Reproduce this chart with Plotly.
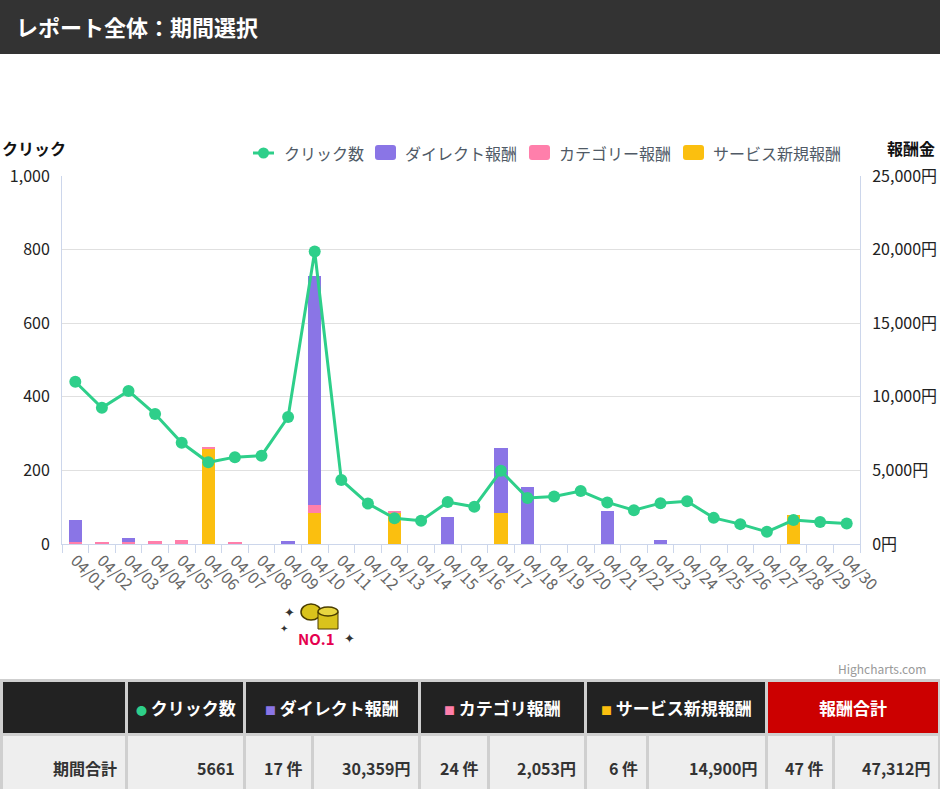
import plotly.graph_objects as go

# --- データ ---
dates = ["04/%02d" % d for d in range(1, 31)]
clicks = [441, 370, 416, 353, 275, 222, 236, 240, 345, 795,
          174, 110, 70, 63, 114, 101, 199, 125, 129, 144,
          113, 92, 111, 116, 71, 54, 33, 65, 60, 56]
direct_reward = [1500, 0, 280, 0, 0, 0, 0, 0, 200, 15560,
                 0, 0, 0, 0, 1850, 0, 4400, 3900, 0, 0,
                 2240, 0, 290, 0, 0, 0, 0, 0, 0, 0]
category_reward = [110, 130, 130, 200, 290, 70, 110, 0, 0, 570,
                   0, 0, 150, 0, 0, 0, 0, 0, 0, 0,
                   0, 0, 0, 0, 0, 0, 0, 0, 0, 0]
service_reward = [0, 0, 0, 0, 0, 6500, 0, 0, 0, 2100,
                  0, 0, 2100, 0, 0, 0, 2100, 0, 0, 0,
                  0, 0, 0, 0, 0, 0, 0, 2000, 0, 0]

click_ticks = [0, 200, 400, 600, 800, 1000]
yen_ticks = [0, 5000, 10000, 15000, 20000, 25000]

legend_labels = ["クリック数", "ダイレクト報酬", "カテゴリー報酬", "サービス新規報酬"]
table_headers = ["クリック数", "ダイレクト報酬", "カテゴリ報酬", "サービス新規報酬", "報酬合計"]
table_values = ["期間合計", "5661", "17 件", "30,359円", "24 件", "2,053円",
                "6 件", "14,900円", "47 件", "47,312円"]

FONT = "Noto Sans CJK JP"
GREEN = "#2ecf8a"
PURPLE = "#8a75e6"
PINK = "#ff7fab"
YELLOW = "#fbbf0f"

W, H = 940, 789
PLOT_LEFT, PLOT_RIGHT, PLOT_TOP, PLOT_BOTTOM = 62, 860, 176, 544


def px_x(x):
    """ピクセル座標 -> paper 座標 (x)"""
    return (x - PLOT_LEFT) / (PLOT_RIGHT - PLOT_LEFT)


def px_y(y):
    """ピクセル座標 -> paper 座標 (y)"""
    return (PLOT_BOTTOM - y) / (PLOT_BOTTOM - PLOT_TOP)


def rect(x0, y0, x1, y1, color, line=None):
    return dict(type="rect", xref="paper", yref="paper", layer="above",
                x0=px_x(x0), x1=px_x(x1), y0=px_y(y0), y1=px_y(y1),
                fillcolor=color, line=dict(width=1 if line else 0, color=line or color))


def round_rect(x0, y0, x1, y1, r, color):
    # 角丸の四角（凡例用）
    X = lambda v: f"{px_x(v):.5f}"
    Y = lambda v: f"{px_y(v):.5f}"
    p = (f"M{X(x0 + r)},{Y(y0)} L{X(x1 - r)},{Y(y0)} Q{X(x1)},{Y(y0)} {X(x1)},{Y(y0 + r)} "
         f"L{X(x1)},{Y(y1 - r)} Q{X(x1)},{Y(y1)} {X(x1 - r)},{Y(y1)} "
         f"L{X(x0 + r)},{Y(y1)} Q{X(x0)},{Y(y1)} {X(x0)},{Y(y1 - r)} "
         f"L{X(x0)},{Y(y0 + r)} Q{X(x0)},{Y(y0)} {X(x0 + r)},{Y(y0)} Z")
    return dict(type="path", xref="paper", yref="paper", layer="above", path=p,
                fillcolor=color, line=dict(width=0))


def text(x, y, s, size=15, color="#333", anchor="center", bold=False):
    return dict(xref="paper", yref="paper", x=px_x(x), y=px_y(y), text=f"<b>{s}</b>" if bold else s,
                showarrow=False, xanchor=anchor, yanchor="middle",
                font=dict(family=FONT, size=size, color=color))


def build_chart():
    fig = go.Figure()

    # 積み上げ順: 下からサービス新規 -> カテゴリー -> ダイレクト
    fig.add_trace(go.Bar(x=dates, y=service_reward, name="サービス新規報酬", marker_color=YELLOW,
                         marker_line_width=0, yaxis="y"))
    fig.add_trace(go.Bar(x=dates, y=category_reward, name="カテゴリー報酬", marker_color=PINK,
                         marker_line_width=0, yaxis="y"))
    fig.add_trace(go.Bar(x=dates, y=direct_reward, name="ダイレクト報酬", marker_color=PURPLE,
                         marker_line_width=0, yaxis="y"))
    # 折れ線は上に重ねる軸へ
    fig.add_trace(go.Scatter(x=dates, y=clicks, name="クリック数", mode="lines+markers",
                             line=dict(color=GREEN, width=3), marker=dict(size=12, color=GREEN),
                             yaxis="y2"))

    fig.update_layout(
        width=W, height=H,
        margin=dict(l=PLOT_LEFT, r=W - PLOT_RIGHT, t=PLOT_TOP, b=H - PLOT_BOTTOM),
        paper_bgcolor="white", plot_bgcolor="white",
        font=dict(family=FONT, size=15, color="#333"),
        barmode="stack", bargap=0.5,
        showlegend=False,
        xaxis=dict(type="category", tickangle=45, tickson="boundaries", ticks="outside", ticklen=8,
                   tickcolor="#ccd6eb", showline=True, linecolor="#ccd6eb", showgrid=False,
                   tickfont=dict(size=16, color="#666"), range=[-0.5, 29.5], automargin=False),
        yaxis=dict(side="right", range=[0, 25000], tickvals=yen_ticks,
                   ticktext=[f"{v:,}円" for v in yen_ticks], showline=True, linecolor="#ccd6eb",
                   showgrid=True, gridcolor="#e0e0e0", zeroline=False, ticklabelstandoff=8,
                   tickfont=dict(size=16, color="#222"), automargin=False),
        yaxis2=dict(side="left", overlaying="y", range=[0, 1000], tickvals=click_ticks,
                    ticktext=[f"{v:,}" for v in click_ticks], showline=True, linecolor="#ccd6eb",
                    showgrid=False, zeroline=False, ticklabelstandoff=8,
                    tickfont=dict(size=16, color="#222"), automargin=False),
    )

    shapes = []
    annotations = []

    # ヘッダーバー
    shapes.append(rect(0, 0, 940, 54, "#333333"))
    annotations.append(text(14, 26, "レポート全体：期間選択", size=22, color="white", anchor="left", bold=True))

    # 軸タイトル
    annotations.append(text(0, 148, "クリック", size=16, color="#111", anchor="left", bold=True))
    annotations.append(text(937, 148, "報酬金", size=16, color="#111", anchor="right", bold=True))

    # 凡例（Highcharts 風）
    legend_y = 153
    shapes.append(dict(type="line", xref="paper", yref="paper", layer="above",
                       x0=px_x(253), x1=px_x(274), y0=px_y(legend_y), y1=px_y(legend_y),
                       line=dict(color=GREEN, width=3)))
    shapes.append(dict(type="circle", xref="paper", yref="paper", layer="above",
                       x0=px_x(258), x1=px_x(269), y0=px_y(legend_y + 5.5), y1=px_y(legend_y - 5.5),
                       fillcolor=GREEN, line=dict(width=0)))
    annotations.append(text(282, legend_y, legend_labels[0], size=16, color="#505a66", anchor="left"))
    for x0, label, col in zip([375, 529, 683], legend_labels[1:], [PURPLE, PINK, YELLOW]):
        shapes.append(round_rect(x0, legend_y - 8, x0 + 21, legend_y + 7, 3, col))
        annotations.append(text(x0 + 28, legend_y, label, size=16, color="#505a66", anchor="left"))

    # Highcharts クレジット
    annotations.append(text(928, 668, "Highcharts.com", size=12, color="#999", anchor="right"))

    # NO.1 アイコン（簡易）
    shapes.append(dict(type="circle", xref="paper", yref="paper", layer="above",
                       x0=px_x(301), x1=px_x(321), y0=px_y(620), y1=px_y(604),
                       fillcolor="#d9c31c", line=dict(color="#4a3d00", width=1.5)))
    shapes.append(rect(318, 612, 338, 629, "#d9c31c", line="#4a3d00"))
    shapes.append(dict(type="circle", xref="paper", yref="paper", layer="above",
                       x0=px_x(318), x1=px_x(338), y0=px_y(616), y1=px_y(607),
                       fillcolor="#e8d640", line=dict(color="#4a3d00", width=1.5)))
    annotations.append(text(316, 638, "NO.1", size=15, color="#e5004f", bold=True))
    annotations.append(text(289, 611, "✦", size=13, color="#333"))
    annotations.append(text(284, 627, "✦", size=10, color="#333"))
    annotations.append(text(349, 637, "✦", size=13, color="#333"))

    # 集計テーブル
    shapes.append(rect(0, 679, 940, 789, "#cfcfcf"))
    header_cells = [(3, 125), (128, 243), (246, 418), (421, 584), (587, 765), (768, 938)]
    for i, (x0, x1) in enumerate(header_cells):
        shapes.append(rect(x0, 682, x1, 733, "#cc0000" if i == 5 else "#222222"))
    body_cells = [(3, 125), (128, 243), (246, 311), (314, 418), (421, 487), (490, 584),
                  (587, 646), (649, 765), (768, 832), (835, 938)]
    for x0, x1 in body_cells:
        shapes.append(rect(x0, 736, x1, 789, "#eeeeee"))

    bullets = [GREEN, PURPLE, PINK, YELLOW, None]
    marks = ["●", "■", "■", "■", None]
    for (x0, x1), label, col, mk in zip(header_cells[1:], table_headers, bullets, marks):
        s = f"<b>{label}</b>"
        if col:
            s = f"<span style='color:{col};font-size:11px'>{mk}</span> " + s
        annotations.append(dict(xref="paper", yref="paper", x=px_x((x0 + x1) / 2), y=px_y(707),
                                text=s, showarrow=False, xanchor="center", yanchor="middle",
                                font=dict(family=FONT, size=17, color="white")))
    for (x0, x1), val in zip(body_cells, table_values):
        annotations.append(text(x1 - 6, 768, val, size=16, color="#333", anchor="right", bold=True))

    fig.update_layout(shapes=shapes, annotations=annotations)
    return fig


def main():
    fig = build_chart()
    # ページ余白を消してグラフを左上に固定
    js = ("document.documentElement.style.overflow='hidden';"
          "document.body.style.margin='0';document.body.style.overflow='hidden';"
          "var g=document.getElementsByClassName('plotly-graph-div')[0];"
          "g.style.position='fixed';g.style.left='0';g.style.top='0';")
    fig.write_html("out.html", config={"displayModeBar": False}, post_script=js)


if __name__ == "__main__":
    main()
